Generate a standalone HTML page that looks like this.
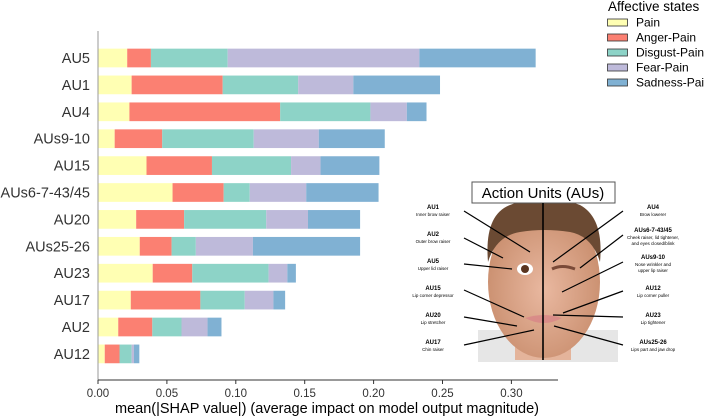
<!DOCTYPE html>
<html><head><meta charset="utf-8"><style>
body{margin:0;background:#fff;}
svg{display:block;font-family:"Liberation Sans","DejaVu Sans",sans-serif;}
</style></head><body>
<svg id="chart" width="704" height="416" viewBox="0 0 704 416">
<g id="bars"></g>
<g id="axes"></g>
<g id="legend"></g>
<g id="inset">
  <defs>
    <radialGradient id="skin" cx="50%" cy="55%" r="55%"><stop offset="0" stop-color="#e9b8a0"/><stop offset="1" stop-color="#c98e6e"/></radialGradient>
  </defs>
  <rect x="478" y="330" width="140" height="32" fill="#e6e6e6"/>
  <rect x="515" y="320" width="56" height="40" fill="#e4b49b"/>
  <ellipse cx="544" cy="282" rx="56" ry="76" fill="url(#skin)"/>
  <path d="M488 262 Q484 215 510 205 Q544 190 580 205 Q604 218 600 262 Q592 236 570 232 Q544 228 520 232 Q496 236 488 262Z" fill="#6b4a33"/>
  <ellipse cx="525" cy="269" rx="8" ry="6" fill="#fff"/><circle cx="525" cy="269" r="4" fill="#5a3520"/>
  <path d="M552 269 Q562 264 575 269" stroke="#7a4a38" stroke-width="3" fill="none"/>
  <path d="M525 318 Q544 312 562 318 Q544 328 525 318Z" fill="#d98c88"/>
  <rect x="472" y="182" width="143" height="21" fill="#fff" stroke="#555" stroke-width="1"/>
  <text x="543" y="198" font-size="15" text-anchor="middle" fill="#000">Action Units (AUs)</text>
  <line x1="543" y1="203" x2="543" y2="360" stroke="#000" stroke-width="1.6"/>
  <g font-size="6" fill="#000" text-anchor="middle">
    <text x="433" y="209" font-weight="bold">AU1</text><text x="433" y="216" font-size="4.5">Inner brow raiser</text>
    <text x="433" y="236" font-weight="bold">AU2</text><text x="433" y="243" font-size="4.5">Outer brow raiser</text>
    <text x="433" y="263" font-weight="bold">AU5</text><text x="433" y="270" font-size="4.5">Upper lid raiser</text>
    <text x="433" y="290" font-weight="bold">AU15</text><text x="433" y="297" font-size="4.5">Lip corner depressor</text>
    <text x="433" y="317" font-weight="bold">AU20</text><text x="433" y="324" font-size="4.5">Lip stretcher</text>
    <text x="433" y="344" font-weight="bold">AU17</text><text x="433" y="351" font-size="4.5">Chin raiser</text>
    <text x="653" y="209" font-weight="bold">AU4</text><text x="653" y="216" font-size="4.5">Brow lowerer</text>
    <text x="653" y="232" font-weight="bold">AUs6-7-43/45</text><text x="653" y="239" font-size="4.5">Cheek raiser, lid tightener,</text><text x="653" y="245" font-size="4.5">and eyes closed/blink</text>
    <text x="653" y="259" font-weight="bold">AUs9-10</text><text x="653" y="266" font-size="4.5">Nose wrinkler and</text><text x="653" y="272" font-size="4.5">upper lip raiser</text>
    <text x="653" y="290" font-weight="bold">AU12</text><text x="653" y="297" font-size="4.5">Lip corner puller</text>
    <text x="653" y="317" font-weight="bold">AU23</text><text x="653" y="324" font-size="4.5">Lip tightener</text>
    <text x="653" y="344" font-weight="bold">AUs25-26</text><text x="653" y="351" font-size="4.5">Lips part and jaw drop</text>
  </g>
  <g stroke="#000" stroke-width="1.2">
    <line x1="464" y1="211" x2="530" y2="252"/><line x1="464" y1="238" x2="503" y2="258"/>
    <line x1="464" y1="264" x2="512" y2="269"/><line x1="464" y1="290" x2="524" y2="317"/>
    <line x1="464" y1="317" x2="517" y2="326"/><line x1="464" y1="345" x2="534" y2="330"/>
    <line x1="623" y1="211" x2="553" y2="262"/><line x1="623" y1="235" x2="580" y2="268"/>
    <line x1="623" y1="262" x2="562" y2="292"/><line x1="623" y1="291" x2="563" y2="313"/>
    <line x1="623" y1="317" x2="553" y2="315"/><line x1="623" y1="345" x2="554" y2="326"/>
  </g>
</g>
<script>
const categories=["AU5","AU1","AU4","AUs9-10","AU15","AUs6-7-43/45","AU20","AUs25-26","AU23","AU17","AU2","AU12"];
const seriesNames=["Pain","Anger-Pain","Disgust-Pain","Fear-Pain","Sadness-Pain"];
const pain=[0.0212,0.0244,0.0228,0.0121,0.0352,0.0541,0.0277,0.0303,0.0397,0.0238,0.0147,0.0049];
const angerPain=[0.0172,0.0661,0.1094,0.0345,0.0475,0.0371,0.0348,0.0231,0.0287,0.0505,0.0247,0.0107];
const disgustPain=[0.0557,0.0548,0.0655,0.0664,0.0574,0.0189,0.0596,0.0176,0.0554,0.0322,0.0212,0.0088];
const fearPain=[0.1391,0.0400,0.0264,0.0472,0.0214,0.0410,0.0303,0.0414,0.0136,0.0208,0.0189,0.0017];
const sadnessPain=[0.0844,0.0629,0.0143,0.0479,0.0427,0.0525,0.0378,0.0778,0.0062,0.0085,0.0101,0.0039];
const xTicks=[0,0.05,0.10,0.15,0.20,0.25,0.30];
const xTickLabels=["0.00","0.05","0.10","0.15","0.20","0.25","0.30"];
const colors=["#ffffb3","#fb8072","#8dd3c7","#bebada","#80b1d3"];
const series=[pain,angerPain,disgustPain,fearPain,sadnessPain];
const NS="http://www.w3.org/2000/svg";
const x0=98,pxPerUnit=1378;
function xs(v){return x0+v*pxPerUnit;}
function ys(i){return 58+i*26.9;}
const barH=18.7;
function mk(tag,attrs,parent){const e=document.createElementNS(NS,tag);for(const k in attrs)e.setAttribute(k,attrs[k]);parent.appendChild(e);return e;}
const bars=document.getElementById('bars'),axes=document.getElementById('axes'),legend=document.getElementById('legend');
categories.forEach((c,i)=>{
  let cum=0;
  series.forEach((s,j)=>{
    const r=mk('rect',{x:xs(cum),y:ys(i)-barH/2,width:xs(cum+s[i])-xs(cum),height:barH,fill:colors[j]},bars);
    
    
    cum+=s[i];
  });
  const t=mk('text',{x:90,y:ys(i)+5,'font-size':14.5,'text-anchor':'end',fill:'#333'},axes);
  t.textContent=c;
  
  
});
const yl=mk('line',{x1:x0,y1:31,x2:x0,y2:380,stroke:'#999','stroke-width':1},axes);


const xl=mk('line',{x1:x0,y1:380,x2:558,y2:380,stroke:'#333','stroke-width':1},axes);


xTicks.forEach((v,k)=>{
  mk('line',{x1:xs(v),y1:380,x2:xs(v),y2:384,stroke:'#333'},axes);
  const t=mk('text',{x:xs(v),y:397,'font-size':11.5,'text-anchor':'middle',fill:'#333'},axes);
  t.textContent=xTickLabels[k];
  
  
});
const xt=mk('text',{x:327,y:413,'font-size':14.5,'text-anchor':'middle',fill:'#000'},axes);
xt.textContent="mean(|SHAP value|) (average impact on model output magnitude)";


const lt=mk('text',{x:608,y:11,'font-size':13.5,fill:'#000'},legend);
lt.textContent="Affective states";


seriesNames.forEach((n,j)=>{
  const y=22+j*15;
  const p=mk('rect',{x:607.5,y:y-3,width:20,height:7,fill:colors[j],stroke:'#333','stroke-width':0.8},legend);
  
  
  const t=mk('text',{x:636,y:y+4.5,'font-size':12,fill:'#000'},legend);
  t.textContent=n;
  
  
});
</script>
</svg>
</body></html>
